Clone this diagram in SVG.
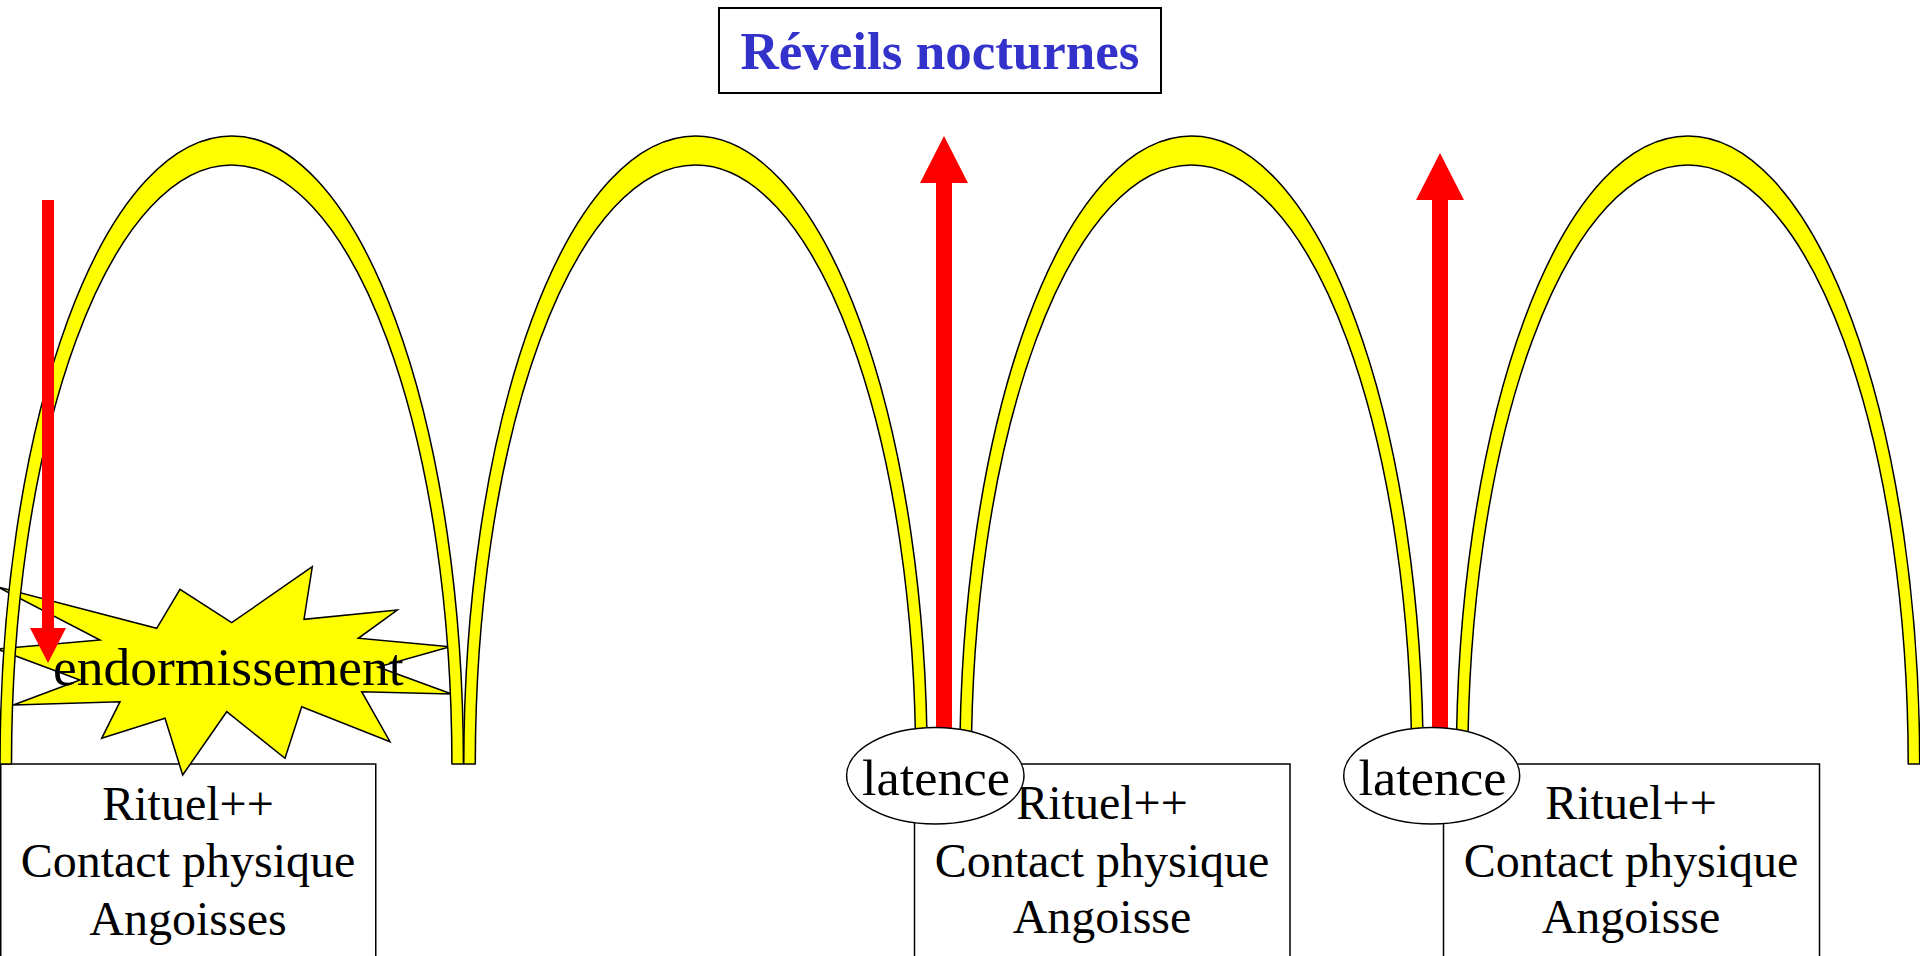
<svg xmlns="http://www.w3.org/2000/svg" xmlns:xlink="http://www.w3.org/1999/xlink" width="1920" height="956" viewBox="0 0 1920 956">
<style>
.box{fill:#fff;stroke:#000;stroke-width:1.5}
.txt{font-family:"Liberation Serif","Times New Roman",serif;font-size:48px;fill:#000;text-anchor:middle}
.lat{font-family:"Liberation Serif","Times New Roman",serif;font-size:50px;fill:#000;text-anchor:middle}
.arch{fill:#ffff00;stroke:#000;stroke-width:1.5;stroke-linejoin:round}
.red{fill:#ff0000;stroke:none}
.ell{fill:#fff;stroke:#000;stroke-width:1.5}
</style>
<defs>
<path id="archShape" d="M -231.7 764 A 231.7 628 0 0 1 231.7 764 L 220.2 764 A 220.2 599 0 0 0 -220.2 764 Z"/>
</defs>
<rect width="1920" height="956" fill="#fff"/>
<g id="title">
<rect x="719" y="8" width="442" height="85" fill="#fff" stroke="#000" stroke-width="2"/>
<text x="940" y="69" font-family="Liberation Serif,'Times New Roman',serif" font-size="53" font-weight="bold" fill="#3333cc" text-anchor="middle">Réveils nocturnes</text>
</g>
<g id="box1">
<rect class="box" x="0.75" y="764" width="375" height="220"/>
<text class="txt" x="188" y="820">Rituel++</text>
<text class="txt" x="188" y="877">Contact physique</text>
<text class="txt" x="188" y="935">Angoisses</text>
</g>
<g id="box2">
<rect class="box" x="914.5" y="764" width="375.5" height="220"/>
<text class="txt" x="1102" y="819">Rituel++</text>
<text class="txt" x="1102" y="877">Contact physique</text>
<text class="txt" x="1102" y="933">Angoisse</text>
</g>
<g id="box3">
<rect class="box" x="1443.5" y="764" width="376" height="220"/>
<text class="txt" x="1631" y="819">Rituel++</text>
<text class="txt" x="1631" y="877">Contact physique</text>
<text class="txt" x="1631" y="933">Angoisse</text>
</g>
<g id="star">
<polygon points="312.3,566.7 304,619.3 397.3,610 358.3,638.3 450,646.7 378,667 451.7,694 361.7,691.7 390,741.7 301.7,706.7 285,758.3 226.7,711.7 182.7,775 165,718.3 101.7,738.3 120,701.7 13.3,705 80,680 -3,649 100,640 -2,587 156.7,628.3 180,589.3 231.7,622.7" fill="#ffff00" stroke="#000" stroke-width="1.5" stroke-linejoin="miter"/>
<text x="228.4" y="685" font-family="Liberation Serif,'Times New Roman',serif" font-size="53.5" fill="#000" text-anchor="middle">endormissement</text>
</g>
<g id="arches">
<use xlink:href="#archShape" class="arch" transform="translate(231.7 0)"/>
<use xlink:href="#archShape" class="arch" transform="translate(695.5 0)"/>
<use xlink:href="#archShape" class="arch" transform="translate(1191.5 0)"/>
<use xlink:href="#archShape" class="arch" transform="translate(1688 0)"/>
</g>
<g id="connectors">
<path class="red" d="M42 200 H54 V628 H66 L48 663 L30 628 H42 Z"/>
<path class="red" d="M936 745 V183 H920 L944 136 L968 183 H952 V745 Z"/>
<path class="red" d="M1432 745 V200 H1416 L1440 153 L1464 200 H1448 V745 Z"/>
</g>
<g id="latence1">
<ellipse class="ell" cx="935.3" cy="775.7" rx="88.7" ry="48.3"/>
<text class="lat" x="936" y="795" textLength="148" lengthAdjust="spacingAndGlyphs">latence</text>
</g>
<g id="latence2">
<ellipse class="ell" cx="1431.7" cy="775.7" rx="88" ry="48.3"/>
<text class="lat" x="1432.5" y="795" textLength="148" lengthAdjust="spacingAndGlyphs">latence</text>
</g>
</svg>
